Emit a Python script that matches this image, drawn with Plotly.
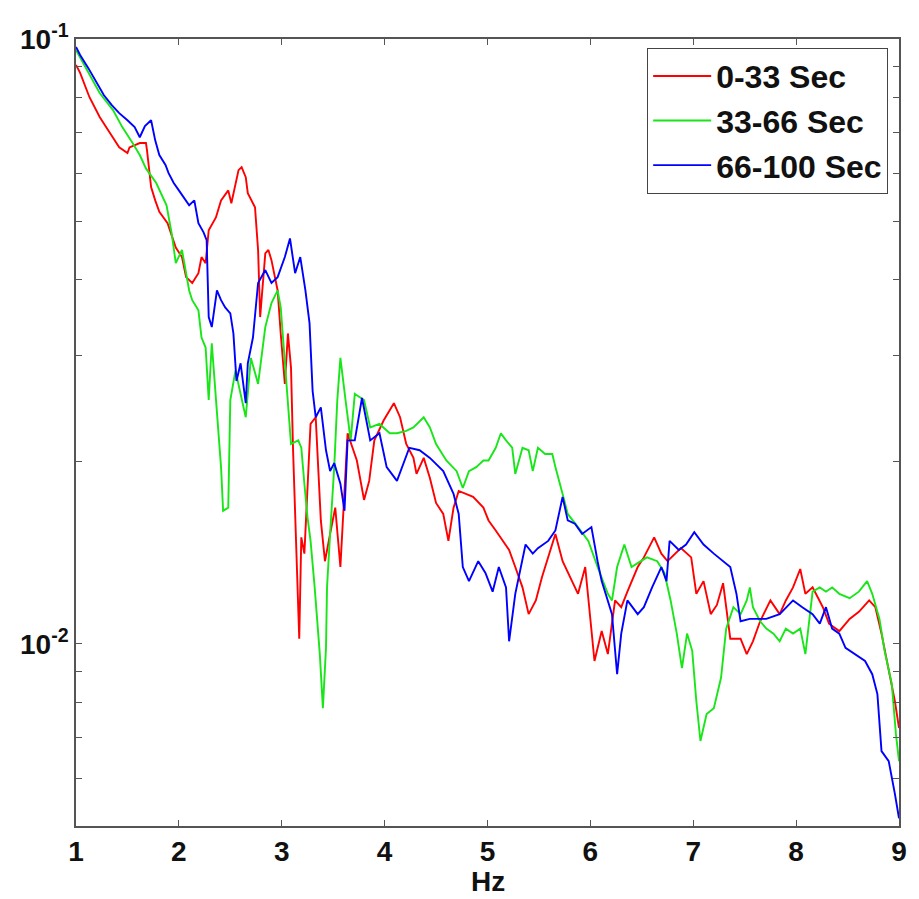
import plotly.graph_objects as go

# ---------------- data ----------------
red_hz = [1.00, 1.04, 1.13, 1.23, 1.33, 1.42, 1.50, 1.52, 1.62, 1.68, 1.69, 1.73, 1.77, 1.81, 1.89, 1.92,
          1.97, 2.03, 2.07, 2.13, 2.19, 2.22, 2.26, 2.29, 2.36, 2.41, 2.48, 2.51, 2.58, 2.61, 2.65, 2.67,
          2.74, 2.77, 2.79, 2.84, 2.87, 2.90, 2.93, 2.96, 2.99, 3.03, 3.06, 3.09, 3.11, 3.13, 3.15, 3.17,
          3.19, 3.22, 3.28, 3.33, 3.38, 3.42, 3.47, 3.52, 3.57, 3.61, 3.64, 3.73, 3.80, 3.85, 3.90, 3.99,
          4.09, 4.15, 4.21, 4.28, 4.31, 4.38, 4.44, 4.50, 4.57, 4.62, 4.67, 4.72, 4.79, 4.86, 4.96, 5.01,
          5.08, 5.15, 5.21, 5.27, 5.34, 5.40, 5.47, 5.53, 5.59, 5.66, 5.73, 5.82, 5.88, 5.95, 6.01, 6.04,
          6.11, 6.17, 6.24, 6.30, 6.36, 6.46, 6.52, 6.62, 6.69, 6.75, 6.88, 6.98, 7.03, 7.10, 7.17, 7.23,
          7.29, 7.36, 7.46, 7.52, 7.58, 7.65, 7.75, 7.84, 7.90, 7.97, 8.04, 8.09, 8.16, 8.26, 8.32, 8.42,
          8.52, 8.61, 8.71, 8.77, 8.83, 8.90, 8.96, 9.00]
red_val = [0.0906, 0.0879, 0.0802, 0.0743, 0.0699, 0.0662, 0.0648, 0.0662, 0.0673, 0.0673, 0.0655, 0.0569,
           0.0541, 0.0518, 0.0496, 0.0479, 0.0452, 0.0436, 0.0404, 0.0395, 0.0410, 0.0436, 0.0426, 0.0483,
           0.0507, 0.0541, 0.0562, 0.0535, 0.0607, 0.0614, 0.0591, 0.0556, 0.0527, 0.0448, 0.0347, 0.0442,
           0.0448, 0.0431, 0.0404, 0.0384, 0.0326, 0.0269, 0.0326, 0.0286, 0.0209, 0.0160, 0.0134, 0.0102,
           0.0150, 0.0141, 0.0231, 0.0237, 0.0160, 0.0137, 0.0152, 0.0168, 0.0134, 0.0181, 0.0223, 0.0201,
           0.0173, 0.0186, 0.0217, 0.0234, 0.0250, 0.0237, 0.0214, 0.0203, 0.0191, 0.0203, 0.0188, 0.0171,
           0.0164, 0.0148, 0.0168, 0.0179, 0.0177, 0.0175, 0.0168, 0.0160, 0.0154, 0.0148, 0.0143, 0.0134,
           0.0124, 0.0112, 0.0118, 0.0129, 0.0139, 0.0152, 0.0137, 0.0127, 0.0121, 0.0134, 0.0106, 0.00937,
           0.0105, 0.00962, 0.0118, 0.0115, 0.0122, 0.0134, 0.0139, 0.0150, 0.0141, 0.0137, 0.0144, 0.0139,
           0.0121, 0.0127, 0.0112, 0.0116, 0.0126, 0.0102, 0.0102, 0.00962, 0.0101, 0.0109, 0.0118, 0.0112,
           0.0118, 0.0124, 0.0133, 0.0121, 0.0124, 0.0115, 0.0108, 0.0105, 0.0110, 0.0113, 0.0118, 0.0115,
           0.0104, 0.00912, 0.00804, 0.00726]

green_hz = [1.00, 1.11, 1.23, 1.36, 1.45, 1.55, 1.62, 1.68, 1.78, 1.88, 1.93, 1.97, 2.03, 2.10, 2.13, 2.19,
            2.22, 2.26, 2.29, 2.32, 2.36, 2.41, 2.43, 2.48, 2.50, 2.55, 2.65, 2.70, 2.77, 2.84, 2.90, 2.96,
            2.99, 3.06, 3.09, 3.16, 3.19, 3.22, 3.25, 3.28, 3.32, 3.37, 3.40, 3.43, 3.44, 3.47, 3.51, 3.54,
            3.57, 3.62, 3.67, 3.71, 3.80, 3.86, 3.95, 4.05, 4.12, 4.21, 4.28, 4.38, 4.44, 4.50, 4.60, 4.70,
            4.76, 4.82, 4.89, 4.96, 5.01, 5.08, 5.13, 5.18, 5.24, 5.27, 5.34, 5.40, 5.44, 5.49, 5.56, 5.63,
            5.66, 5.73, 5.78, 5.88, 5.98, 6.07, 6.17, 6.21, 6.26, 6.33, 6.40, 6.46, 6.55, 6.65, 6.72, 6.78,
            6.84, 6.89, 6.94, 6.99, 7.03, 7.07, 7.13, 7.20, 7.27, 7.32, 7.39, 7.46, 7.52, 7.55, 7.58, 7.65,
            7.71, 7.78, 7.84, 7.90, 7.97, 8.04, 8.09, 8.16, 8.23, 8.29, 8.35, 8.42, 8.52, 8.61, 8.69, 8.74,
            8.81, 8.86, 8.93, 8.97, 9.00]
green_val = [0.0959, 0.0889, 0.0814, 0.0763, 0.0715, 0.0673, 0.0643, 0.0611, 0.0578, 0.0531, 0.0477, 0.0426,
             0.0448, 0.0384, 0.0370, 0.0356, 0.0321, 0.0309, 0.0253, 0.0314, 0.0250, 0.0196, 0.0166, 0.0168,
             0.0253, 0.0283, 0.0237, 0.0297, 0.0269, 0.0334, 0.0366, 0.0384, 0.0360, 0.0253, 0.0214, 0.0217,
             0.0211, 0.0184, 0.0162, 0.0148, 0.0124, 0.00962, 0.00783, 0.00985, 0.0124, 0.0152, 0.0196, 0.0253,
             0.0297, 0.0253, 0.0217, 0.0259, 0.0253, 0.0228, 0.0231, 0.0223, 0.0223, 0.0225, 0.0228, 0.0237,
             0.0228, 0.0214, 0.0201, 0.0193, 0.0181, 0.0193, 0.0196, 0.0201, 0.0201, 0.0211, 0.0223, 0.0217,
             0.0211, 0.0191, 0.0211, 0.0209, 0.0193, 0.0211, 0.0206, 0.0206, 0.0196, 0.0177, 0.0164, 0.0156,
             0.0148, 0.0134, 0.0121, 0.0118, 0.0134, 0.0146, 0.0134, 0.0136, 0.0139, 0.0137, 0.0131, 0.0118,
             0.0104, 0.00912, 0.0104, 0.00974, 0.00804, 0.00691, 0.00766, 0.00783, 0.00879, 0.0106, 0.0115,
             0.0112, 0.0118, 0.0124, 0.0115, 0.0109, 0.0106, 0.0104, 0.0101, 0.0106, 0.0104, 0.0106, 0.00962,
             0.0122, 0.0124, 0.0122, 0.0124, 0.0121, 0.0119, 0.0122, 0.0127, 0.0121, 0.0110, 0.00974, 0.00859,
             0.0071, 0.0064]

blue_hz = [1.00, 1.04, 1.12, 1.19, 1.27, 1.35, 1.42, 1.50, 1.57, 1.62, 1.67, 1.73, 1.77, 1.81, 1.87, 1.90,
           1.95, 2.00, 2.05, 2.10, 2.15, 2.19, 2.24, 2.27, 2.29, 2.32, 2.37, 2.41, 2.45, 2.50, 2.53, 2.56,
           2.60, 2.65, 2.67, 2.72, 2.77, 2.84, 2.90, 2.96, 3.03, 3.08, 3.13, 3.18, 3.23, 3.27, 3.30, 3.33,
           3.38, 3.43, 3.47, 3.51, 3.57, 3.61, 3.64, 3.71, 3.78, 3.86, 3.95, 4.02, 4.12, 4.24, 4.34, 4.44,
           4.57, 4.67, 4.72, 4.76, 4.82, 4.91, 4.98, 5.05, 5.11, 5.18, 5.21, 5.27, 5.37, 5.44, 5.49, 5.59,
           5.66, 5.73, 5.78, 5.85, 5.92, 6.01, 6.07, 6.11, 6.21, 6.26, 6.30, 6.36, 6.46, 6.52, 6.60, 6.69,
           6.74, 6.77, 6.86, 6.93, 7.01, 7.10, 7.20, 7.29, 7.36, 7.42, 7.46, 7.55, 7.61, 7.71, 7.84, 7.97,
           8.06, 8.16, 8.23, 8.29, 8.35, 8.42, 8.48, 8.57, 8.67, 8.74, 8.79, 8.83, 8.90, 8.96, 9.00]
blue_val = [0.0970, 0.0941, 0.0895, 0.0855, 0.0808, 0.0777, 0.0754, 0.0734, 0.0715, 0.0688, 0.0718, 0.0734,
            0.0680, 0.0643, 0.0619, 0.0600, 0.0578, 0.0562, 0.0547, 0.0531, 0.0541, 0.0496, 0.0479, 0.0465,
            0.0347, 0.0334, 0.0384, 0.0370, 0.0360, 0.0352, 0.0326, 0.0272, 0.0291, 0.0250, 0.0291, 0.0321,
            0.0395, 0.0415, 0.0395, 0.0404, 0.0436, 0.0468, 0.0410, 0.0436, 0.0384, 0.0339, 0.0262, 0.0237,
            0.0246, 0.0209, 0.0193, 0.0199, 0.0184, 0.0166, 0.0217, 0.0217, 0.0255, 0.0217, 0.0223, 0.0196,
            0.0186, 0.0211, 0.0209, 0.0203, 0.0193, 0.0177, 0.0164, 0.0134, 0.0127, 0.0137, 0.0131, 0.0122,
            0.0134, 0.0124, 0.0101, 0.0121, 0.0146, 0.0141, 0.0144, 0.0148, 0.0154, 0.0175, 0.0160, 0.0158,
            0.0152, 0.0156, 0.0137, 0.0127, 0.0112, 0.00891, 0.0104, 0.0118, 0.0112, 0.0115, 0.0124, 0.0134,
            0.0127, 0.0148, 0.0143, 0.0146, 0.0153, 0.0146, 0.0141, 0.0137, 0.0134, 0.0121, 0.0109, 0.0110,
            0.0110, 0.0110, 0.0112, 0.0118, 0.0115, 0.0112, 0.0108, 0.0115, 0.0106, 0.0104, 0.00985, 0.00962,
            0.00937, 0.00891, 0.00826, 0.00665, 0.00640, 0.00565, 0.00515]

series_names = ["0-33 Sec", "33-66 Sec", "66-100 Sec"]
series_colors = ["#ff0000", "#19e619", "#0000ff"]

x_ticks = [1, 2, 3, 4, 5, 6, 7, 8, 9]
y_major_vals = [0.01, 0.1]
y_major_text = ["10<sup>-2</sup>", "10<sup>-1</sup>"]
y_minor_vals = [0.005, 0.006, 0.007, 0.008, 0.009, 0.02, 0.03, 0.04, 0.05, 0.06, 0.07, 0.08, 0.09]
x_title = "Hz"

# ---------------- figure ----------------
fig = go.Figure()
for xs, ys, name, col in zip([red_hz, green_hz, blue_hz], [red_val, green_val, blue_val],
                             series_names, series_colors):
    fig.add_trace(go.Scatter(x=xs, y=ys, mode="lines", name=name,
                             line=dict(color=col, width=1.9)))

axis_font = dict(family="Liberation Sans, Arial, sans-serif", size=28, color="#111", weight="bold")

fig.update_layout(
    width=919, height=899,
    margin=dict(l=76, r=12, t=39, b=73),
    paper_bgcolor="white", plot_bgcolor="white",
    showlegend=True,
    legend=dict(x=0.694, y=0.989, xanchor="left", yanchor="top",
                bgcolor="white", bordercolor="#444", borderwidth=1,
                font=dict(family="Liberation Sans, Arial, sans-serif", size=32, color="#111", weight="bold"),
                itemwidth=58, tracegroupgap=0),
    xaxis=dict(range=[1, 9], tickvals=x_ticks, ticks="inside", ticklen=6, tickcolor="#555",
               showline=True, linecolor="#555", linewidth=1.5, mirror="ticks", showgrid=False,
               zeroline=False, tickfont=axis_font, ticklabelstandoff=0),
    yaxis=dict(type="log", range=[-2.30103, -1], tickvals=y_major_vals, ticktext=y_major_text,
               ticks="inside", ticklen=6, tickcolor="#555",
               minor=dict(tickvals=y_minor_vals, ticks="inside", ticklen=6, tickcolor="#555", showgrid=False),
               showline=True, linecolor="#555", linewidth=1.5, mirror="ticks", showgrid=False,
               zeroline=False, tickfont=axis_font),
    annotations=[dict(text=x_title, xref="paper", yref="paper", x=0.5, y=-0.0705,
                      xanchor="center", yanchor="middle", showarrow=False, font=axis_font)],
)

fig.write_html("out.html")
